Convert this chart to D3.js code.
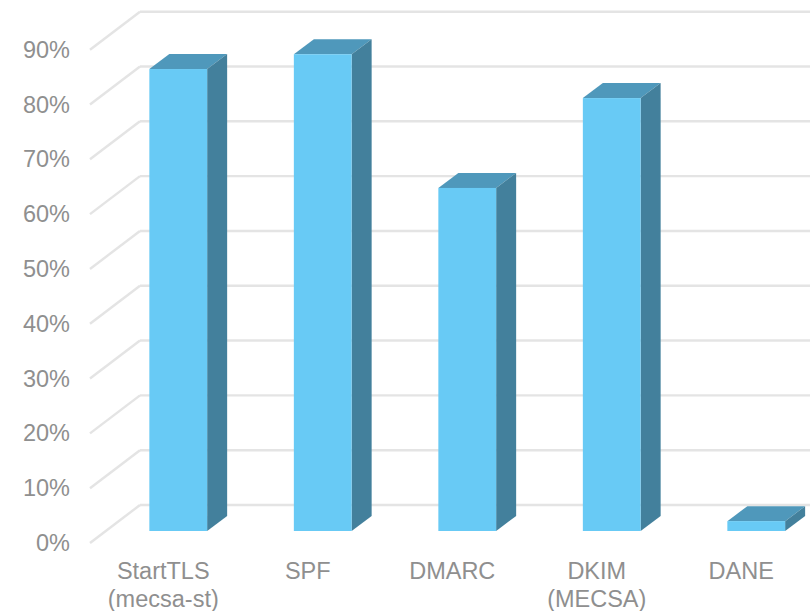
<!DOCTYPE html>
<html>
<head>
<meta charset="utf-8">
<script src="https://cdn.jsdelivr.net/npm/d3@7"></script>
<style>
html, body { margin: 0; padding: 0; background: #fff; }
svg { display: block; }
text { font-family: "Liberation Sans", Arial, sans-serif; }
</style>
</head>
<body>
<div id="chart"></div>
<script>
// values
const categories = ["StartTLS", "SPF", "DMARC", "DKIM", "DANE"];
const categoryLines = [["StartTLS", "(mecsa-st)"], ["SPF"], ["DMARC"], ["DKIM", "(MECSA)"], ["DANE"]];
const values = [0.843, 0.87, 0.626, 0.79, 0.018];
const yTicks = [0, 0.1, 0.2, 0.3, 0.4, 0.5, 0.6, 0.7, 0.8, 0.9];

const width = 810, height = 611;
const depthX = 20, depthY = 15;
const fontSize = 23.5;
const labelColor = "#8f8f8f";

const svg = d3.select("#chart")
    .append("svg")
    .attr("width", width)
    .attr("height", height);

const xScale = d3.scaleBand()
    .domain(categories)
    .range([106, 828.5])
    .paddingInner(0.6)
    .paddingOuter(0.3);

// front plane of the bars
const yScale = d3.scaleLinear().domain([0, 1]).range([531, -17]);
// back wall, and the left edge of the side wall
const yBack = d3.scaleLinear().domain([0, 0.9]).range([505, 11.7]);
const yWall = d3.scaleLinear().domain([0, 0.9]).range([543, 49.7]);

// Gridlines: back wall then side wall
const grid = svg.append("g")
    .attr("fill", "none")
    .attr("stroke", "#e4e4e4")
    .attr("stroke-width", 2.4);

grid.selectAll(".back")
    .data(yTicks)
    .enter()
    .append("line")
    .attr("x1", 140)
    .attr("x2", width)
    .attr("y1", d => yBack(d))
    .attr("y2", d => yBack(d));

grid.selectAll(".wall")
    .data(yTicks)
    .enter()
    .append("line")
    .attr("x1", 90)
    .attr("x2", 140)
    .attr("y1", d => yWall(d))
    .attr("y2", d => yBack(d));

// Bars: top, side, front
const bars = svg.selectAll(".bar")
    .data(categories.map((c, i) => ({ name: c, value: values[i] })))
    .enter()
    .append("g")
    .attr("class", "bar");

bars.append("path")
    .attr("fill", "#4f98bb")
    .attr("d", d => {
        const x = xScale(d.name), w = xScale.bandwidth(), y = yScale(d.value);
        return `M${x},${y}L${x + depthX},${y - depthY}L${x + w + depthX},${y - depthY}L${x + w},${y}Z`;
    });

bars.append("path")
    .attr("fill", "#43809c")
    .attr("d", d => {
        const x = xScale(d.name) + xScale.bandwidth(), y = yScale(d.value), y0 = yScale(0);
        return `M${x},${y}L${x + depthX},${y - depthY}L${x + depthX},${y0 - depthY}L${x},${y0}Z`;
    });

bars.append("rect")
    .attr("fill", "#68caf5")
    .attr("x", d => xScale(d.name))
    .attr("y", d => yScale(d.value))
    .attr("width", xScale.bandwidth())
    .attr("height", d => yScale(0) - yScale(d.value));

// Y axis labels
const yAxis = svg.append("g")
    .attr("transform", "translate(70,0)")
    .call(d3.axisLeft(yWall).tickValues(yTicks).tickSize(0).tickPadding(0).tickFormat(d3.format(".0%")));
yAxis.select(".domain").remove();
yAxis.selectAll("text")
    .attr("fill", labelColor)
    .style("font-size", fontSize + "px");

// X axis labels, wrapped on two lines where needed
const xAxis = svg.append("g")
    .attr("transform", "translate(-15,531)")
    .call(d3.axisBottom(xScale).tickSize(0).tickPadding(0));
xAxis.select(".domain").remove();
xAxis.selectAll("text")
    .attr("fill", labelColor)
    .style("font-size", fontSize + "px")
    .attr("y", 0)
    .attr("dy", null)
    .each(function (d) {
        const lines = categoryLines[categories.indexOf(d)];
        const t = d3.select(this).text(null);
        lines.forEach((line, i) => {
            t.append("tspan")
                .attr("x", 0)
                .attr("y", 47.5 + i * 28)
                .text(line);
        });
    });
</script>
</body>
</html>
